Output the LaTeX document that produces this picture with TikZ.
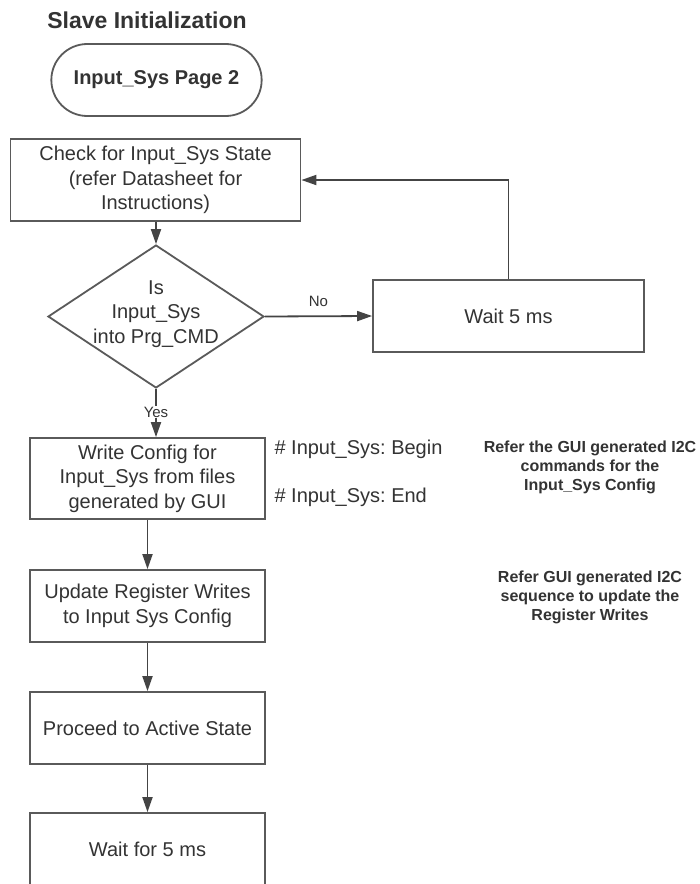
\documentclass[tikz,border=0pt]{standalone}
\usepackage{fontspec}
\setmainfont{Liberation Sans}
\usetikzlibrary{shapes.geometric,shapes.misc,arrows.meta}
\definecolor{txt}{HTML}{333333}
\definecolor{ln}{HTML}{5a5a5a}
\definecolor{arrc}{HTML}{444444}
\frenchspacing
\begin{document}
\begin{tikzpicture}[x=1pt,y=-1pt,
  every node/.style={text=txt},
  body/.style={font=\fontsize{20}{24.5}\selectfont, align=center},
  stepbox/.style={draw=ln, line width=1.8pt, rectangle, inner sep=0pt, body},
  arr/.style={draw=arrc, line width=1.8pt, -{Triangle[length=15pt,width=10pt]}},
  lbl/.style={font=\fontsize{15}{18}\selectfont},
  note/.style={font=\bfseries\fontsize{16}{19}\selectfont, align=center}]
\useasboundingbox (0,0) rectangle (700,884);
\clip (0,0) rectangle (700,884);
\fill[white] (0,0) rectangle (700,884);

\node[font=\bfseries\fontsize{23}{27}\selectfont] (title) at (147,20) {Slave Initialization};
\node[draw=ln, line width=1.8pt, rounded rectangle, minimum width=217pt, minimum height=72pt,
  font=\bfseries\fontsize{20}{24}\selectfont] (start) at (156.5,80) {Input\_Sys Page 2};

\node[stepbox, minimum width=290pt, minimum height=82pt] (check) at (155.5,180)
  {Check for Input\_Sys State\\(refer Datasheet for\\Instructions)};
\node[draw=ln, line width=1.8pt, diamond, minimum width=216pt, minimum height=143pt, inner sep=0pt] (dec) at (156,316.5) {};
\node[body] (dectext) at (156,314) {Is\\Input\_Sys\\into Prg\_CMD};
\node[stepbox, minimum width=271pt, minimum height=72pt] (wait) at (508.5,316) {Wait 5 ms};

\node[stepbox, minimum width=235pt, minimum height=81pt] (write) at (147.5,478.5)
  {Write Config for\\Input\_Sys from files\\generated by GUI};
\node[stepbox, minimum width=235pt, minimum height=72pt] (update) at (147.5,606)
  {Update Register Writes\\to Input Sys Config};
\node[stepbox, minimum width=235pt, minimum height=72pt] (proceed) at (147.5,728)
  {Proceed to Active State};
\node[stepbox, minimum width=235pt, minimum height=72pt] (waitfor) at (147.5,849)
  {Wait for 5 ms};

\node[body, anchor=west] (begin) at (271,449) {\# Input\_Sys: Begin};
\node[body, anchor=west] (end) at (271,497) {\# Input\_Sys: End};
\node[note] (note1) at (590,467) {Refer the GUI generated I2C\\commands for the\\Input\_Sys Config};
\node[note] (note2) at (590,597) {Refer GUI generated I2C\\sequence to update the\\Register Writes};

\draw[arr] (check.south -| dec.north) -- (dec.north);
\draw[arr] (dec.east) -- node[lbl, above=5pt] (no) {No} (wait.west);
\draw[arr] (wait.north) |- (check.east);
\draw[arr] (dec.south) -- node[lbl, fill=white, inner sep=1pt, pos=0.48] (yes) {Yes} (dec.south |- write.north);
\draw[arr] (write.south) -- (update.north);
\draw[arr] (update.south) -- (proceed.north);
\draw[arr] (proceed.south) -- (waitfor.north);
\end{tikzpicture}
\end{document}
